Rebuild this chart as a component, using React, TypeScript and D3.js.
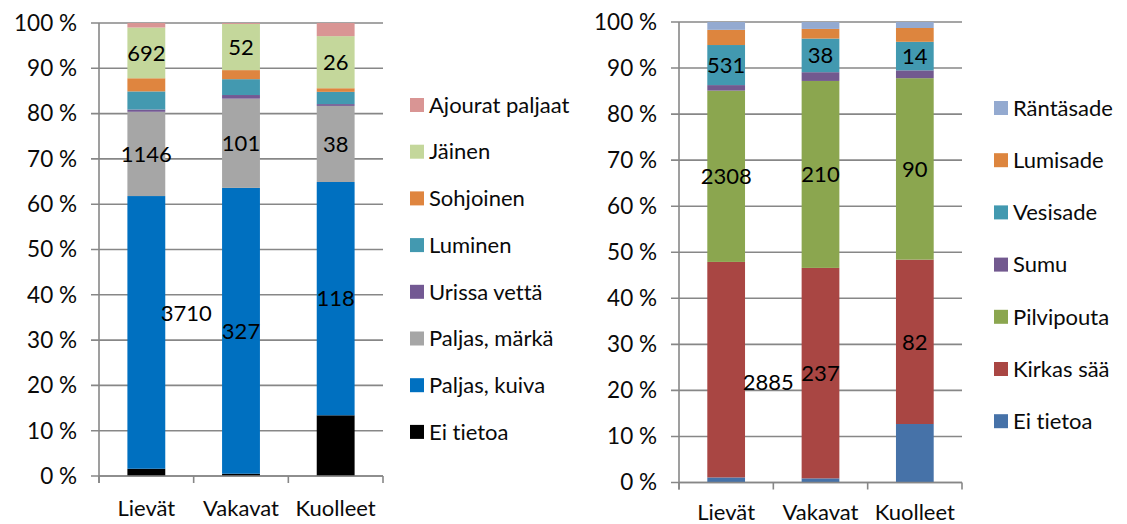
import * as d3 from "d3";

const categories = ["Lievät", "Vakavat", "Kuolleet"];
const yTicks = [0, 10, 20, 30, 40, 50, 60, 70, 80, 90, 100];

// road surface, share % per category (bottom -> top)
const roadSeries = ["Ei tietoa", "Paljas, kuiva", "Paljas, märkä", "Urissa vettä", "Luminen", "Sohjoinen", "Jäinen", "Ajourat paljaat"];
const roadColors = ["#000000", "#0070C0", "#A6A6A6", "#735993", "#4399B0", "#DF853F", "#C4D79B", "#D99594"];
const roadShares = [
  [1.6, 0.5, 13.4],
  [60.2, 63.1, 51.5],
  [18.6, 19.7, 16.8],
  [0.5, 0.8, 0.4],
  [4.0, 3.5, 2.7],
  [2.9, 2.0, 0.8],
  [11.2, 10.2, 11.5],
  [1.0, 0.2, 2.9],
];
const roadLabels = [
  null,
  ["3710", "327", "118"],
  ["1146", "101", "38"],
  null,
  null,
  null,
  ["692", "52", "26"],
  null,
];

// weather, share % per category (bottom -> top)
const weatherSeries = ["Ei tietoa", "Kirkas sää", "Pilvipouta", "Sumu", "Vesisade", "Lumisade", "Räntäsade"];
const weatherColors = ["#4672A8", "#A94643", "#8BA64F", "#72598F", "#4299B0", "#DD853E", "#94AAD0"];
const weatherShares = [
  [1.1, 0.9, 12.7],
  [46.8, 45.7, 35.7],
  [37.2, 40.6, 39.4],
  [1.2, 1.9, 1.7],
  [8.7, 7.3, 6.2],
  [3.3, 2.1, 3.0],
  [1.7, 1.5, 1.3],
];
const weatherLabels = [
  null,
  ["2885", "237", "82"],
  ["2308", "210", "90"],
  null,
  ["531", "38", "14"],
  null,
  null,
];

const FONT = "Lato, 'Open Sans', sans-serif";
const GRID = "#878787";

type Nudge = { s: number; c: number; dx: number; dy: number };

interface ChartProps {
  series: string[];
  colors: string[];
  shares: number[][];
  labels: (string[] | null)[];
  x0: number;
  x1: number;
  top: number;
  bottom: number;
  catY: number;
  legendX: number;
  legendY: number;
  legendStep: number;
  nudges: Nudge[];
}

function StackedChart(p: ChartProps) {
  const rows = categories.map((c, ci) => {
    const r: Record<string, number | string> = { cat: c };
    p.series.forEach((s, si) => (r[s] = p.shares[si][ci]));
    return r;
  });
  const stacked = d3.stack<Record<string, number | string>>().keys(p.series).offset(d3.stackOffsetExpand)(rows);

  const x = d3.scaleBand().domain(categories).range([p.x0, p.x1]).paddingInner(0.6).paddingOuter(0.3);
  const y = d3.scaleLinear().domain([0, 100]).range([p.bottom, p.top]);
  const step = x.step();
  const edges = d3.range(0, categories.length + 1).map((i) => p.x0 + i * step);

  return (
    <g fontFamily={FONT} style={{ fontVariantLigatures: "none" }}>
      {yTicks.map((t) => (
        <g key={t}>
          <line x1={p.x0 - 8} x2={p.x1} y1={y(t)} y2={y(t)} stroke={GRID} strokeWidth={1.6} />
          <text x={p.x0 - 22} y={y(t)} dy="0.35em" textAnchor="end" fontSize={22.5} fill="#0a0a0a">
            {t} %
          </text>
        </g>
      ))}
      {stacked.map((layer, si) => (
        <g key={layer.key} fill={p.colors[si]}>
          {layer.map((d, ci) => (
            <rect
              key={ci}
              x={x(categories[ci])}
              width={x.bandwidth()}
              y={y(d[1] * 100)}
              height={y(d[0] * 100) - y(d[1] * 100)}
            />
          ))}
        </g>
      ))}
      <line x1={p.x0} x2={p.x0} y1={p.top} y2={p.bottom + 7} stroke={GRID} strokeWidth={1.6} />
      <line x1={p.x0} x2={p.x1} y1={p.bottom} y2={p.bottom} stroke={GRID} strokeWidth={1.6} />
      {edges.map((e, i) => (
        <line key={i} x1={e} x2={e} y1={p.bottom} y2={p.bottom + 7} stroke={GRID} strokeWidth={1.6} />
      ))}
      {stacked.map((layer, si) =>
        p.labels[si]
          ? layer.map((d, ci) => {
              const n = p.nudges.find((k) => k.s === si && k.c === ci);
              return (
                <text
                  key={`${si}-${ci}`}
                  x={(x(categories[ci]) ?? 0) + x.bandwidth() / 2 + (n ? n.dx : 0)}
                  y={y(((d[0] + d[1]) / 2) * 100) + (n ? n.dy : 0)}
                  dy="0.35em"
                  textAnchor="middle"
                  fontSize={22}
                  fill="#000"
                >
                  {p.labels[si]![ci]}
                </text>
              );
            })
          : null
      )}
      {categories.map((c) => (
        <text key={c} x={(x(c) ?? 0) + x.bandwidth() / 2} y={p.catY} dy="0.35em" textAnchor="middle" fontSize={22} fill="#0a0a0a">
          {c}
        </text>
      ))}
      {p.series
        .map((s, si) => ({ s, si }))
        .reverse()
        .map(({ s, si }, i) => (
          <g key={s} transform={`translate(${p.legendX},${p.legendY + i * p.legendStep})`}>
            <rect x={0} y={-7} width={14} height={14} fill={p.colors[si]} />
            <text x={19} y={0} dy="0.35em" fontSize={22} fill="#0a0a0a">
              {s}
            </text>
          </g>
        ))}
    </g>
  );
}

export default function App() {
  return (
    <div style={{ position: "absolute", left: 0, top: 0 }}>
      <svg width={1127} height={524} style={{ display: "block", background: "#fff" }}>
        <StackedChart
          series={roadSeries}
          colors={roadColors}
          shares={roadShares}
          labels={roadLabels}
          x0={99}
          x1={383}
          top={23}
          bottom={476}
          catY={508}
          legendX={410}
          legendY={105}
          legendStep={46.7}
          nudges={[{ s: 1, c: 0, dx: 40, dy: -19 }]}
        />
        <StackedChart
          series={weatherSeries}
          colors={weatherColors}
          shares={weatherShares}
          labels={weatherLabels}
          x0={679}
          x1={962}
          top={22}
          bottom={482.5}
          catY={512}
          legendX={994}
          legendY={108}
          legendStep={52.2}
          nudges={[{ s: 1, c: 0, dx: 42, dy: 13 }]}
        />
      </svg>
    </div>
  );
}
